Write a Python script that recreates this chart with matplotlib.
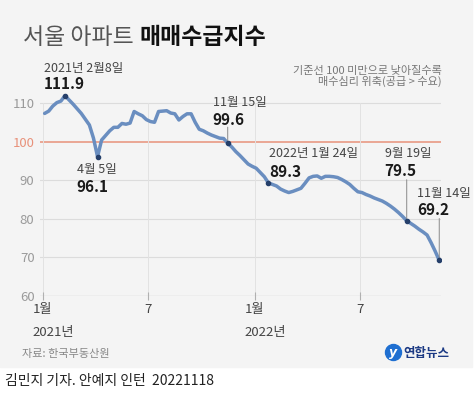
import numpy as np
import pandas as pd
import matplotlib
matplotlib.use("Agg")
from matplotlib import pyplot as plt
from matplotlib.patches import Rectangle, Ellipse

plt.rcParams['font.family'] = ['Noto Sans CJK KR', 'DejaVu Sans']

# weekly index, 2021-01-04 .. 2022-11-14
dates = pd.date_range('2021-01-04', periods=98, freq='7D')
values = [
    107.3, 107.9, 109.2, 110.1, 110.5, 111.9, 110.8, 109.7, 108.5, 107.3,
    105.8, 104.3, 100.9, 96.1, 100.4, 101.6, 102.8, 103.7, 103.7, 104.7,
    104.5, 104.8, 107.8, 107.2, 106.7, 105.7, 105.2, 105.0, 107.8, 107.9,
    108.0, 107.4, 107.2, 105.6, 106.5, 107.2, 107.2, 105.0, 103.2, 102.8,
    102.2, 101.7, 101.3, 100.9, 100.8, 99.6, 98.6, 97.4, 96.4, 95.3,
    94.2, 93.6, 93.1, 92.0, 90.9, 89.3, 88.9, 88.5, 87.7, 87.2,
    86.8, 87.1, 87.5, 87.9, 89.2, 90.6, 91.0, 91.1, 90.5, 91.0,
    91.0, 90.9, 90.7, 90.2, 89.6, 88.9, 87.9, 87.0, 86.8, 86.3,
    85.9, 85.4, 85.0, 84.6, 84.0, 83.3, 82.5, 81.6, 80.6, 79.5,
    78.8, 78.1, 77.3, 76.6, 75.8, 73.8, 71.6, 69.2,
]
yticks = [60, 70, 80, 90, 100, 110]
xtick_dates = ['2021-01-01', '2021-07-01', '2022-01-01', '2022-07-01']
xtick_labels = ['1월', '7', '1월', '7']
year_labels = {0: '2021년', 2: '2022년'}

# (index, date text, value text, dx px, dy date px, dy value px, leader top px)
notes = [
    (5, '2021년 2월8일', '111.9', -21, 24, 7, None),
    (13, '4월 5일', '96.1', -21, -16, -35, None),
    (45, '11월 15일', '99.6', -15, 37, 18, 16),
    (55, '2022년 1월 24일', '89.3', 1, 26, 6, None),
    (89, '9월 19일', '79.5', -22, 64, 45, 41),
    (97, '11월 14일', '69.2', -22, 63, 45, 42),
]

W, H = 474, 397
fig = plt.figure(figsize=(W / 100, H / 100), dpi=100)
fig.patch.set_facecolor('white')
fig.patches.append(Rectangle((0, 1 - 367 / H), 472 / W, 367 / H,
                             transform=fig.transFigure, color='#f4f4f4', zorder=-5))


def fx(px):
    return px / W


def fy(py):
    return 1 - py / H


ymax = 113
ax = fig.add_axes([fx(40), fy(296), fx(441) - fx(40), (ymax - 60) * 3.86 / H])
ax.set_facecolor('none')
ax.set_xlim(pd.Timestamp('2020-12-27'), pd.Timestamp('2022-11-17'))
ax.set_ylim(60, ymax)

for v in yticks[1:]:
    if v == 100:
        ax.axhline(v, color='#e8917a', lw=1.1, zorder=1)
    else:
        ax.axhline(v, color='#dcdcdc', lw=0.8, zorder=1)
ax.axhline(60, color='#c4c4c4', lw=0.9, zorder=1)
for d in xtick_dates:
    ax.plot([pd.Timestamp(d)] * 2, [60, 110], color='#e2e2e2', lw=0.7, zorder=1)

for s in ax.spines.values():
    s.set_visible(False)

ax.set_yticks(yticks)
ax.set_yticklabels([str(v) for v in yticks])
ax.tick_params(axis='y', length=0, pad=4, labelsize=9.5, labelcolor='#9a9a9a')
for lab in ax.get_yticklabels():
    if lab.get_text() == '100':
        lab.set_color('#e8917a')

ax.set_xticks([pd.Timestamp(d) for d in xtick_dates])
ax.set_xticklabels(xtick_labels)
ax.tick_params(axis='x', direction='inout', length=6, width=0.8, color='#b0b0b0',
               pad=2, labelsize=9.5, labelcolor='#444444')
for i, lab in year_labels.items():
    ax.annotate(lab, xy=(pd.Timestamp(xtick_dates[i]), 0), xycoords=('data', 'axes fraction'),
                xytext=(-7.5, -28.5), textcoords='offset points', ha='left', va='baseline',
                fontsize=9.5, color='#444444')

ax.plot(dates, values, color='#6a8ec0', lw=2.5, solid_capstyle='round',
        solid_joinstyle='round', zorder=3)

for idx, dtxt, vtxt, dx, dyd, dyv, lead in notes:
    xy = (dates[idx], values[idx])
    ax.plot(*xy, 'o', color='#253f6a', ms=3, zorder=4)
    ax.annotate(dtxt, xy=xy, xytext=(dx * 0.72, dyd * 0.72), textcoords='offset points',
                ha='left', va='baseline', fontsize=9, color='#444444', annotation_clip=False)
    ax.annotate(vtxt, xy=xy, xytext=(dx * 0.72, dyv * 0.72), textcoords='offset points',
                ha='left', va='baseline', fontsize=11, fontweight='bold', color='#1a1a1a',
                annotation_clip=False)
    if lead:
        ax.annotate('', xy=xy, xytext=(0, lead * 0.72), textcoords='offset points',
                    arrowprops=dict(arrowstyle='-', color='#8a8a8a', lw=0.7,
                                    shrinkA=0, shrinkB=0), annotation_clip=False)

# titles and notes
fig.text(fx(23), fy(44), '서울 아파트', fontsize=16.5, color='#555555', va='baseline')
fig.text(fx(139), fy(44), '매매수급지수', fontsize=16.5, fontweight='bold',
         color='#111111', va='baseline')
fig.text(fx(442), fy(85), '기준선 100 미만으로 낮아질수록\n매수심리 위축(공급 > 수요)',
         fontsize=8, color='#777777', ha='right', va='baseline', linespacing=1.05)
fig.text(fx(22), fy(357), '자료: 한국부동산원', fontsize=8, color='#888888', va='baseline')
fig.text(fx(5), fy(385), '김민지 기자. 안예지 인턴  20221118', fontsize=10,
         color='#222222', va='baseline')

# logo
fig.patches.append(Ellipse((fx(393.5), fy(352.5)), 16 / W, 16 / H, transform=fig.transFigure,
                           color='#1f6fd1', zorder=2))
fig.text(fx(393.5), fy(352.5), 'y', fontsize=9, fontstyle='italic', fontweight='bold',
         color='white', ha='center', va='center', family='DejaVu Sans')
fig.text(fx(403), fy(357), '연합뉴스', fontsize=9, fontweight='bold', color='#1c3a84',
         va='baseline')

fig.savefig('out.png', dpi=100)
